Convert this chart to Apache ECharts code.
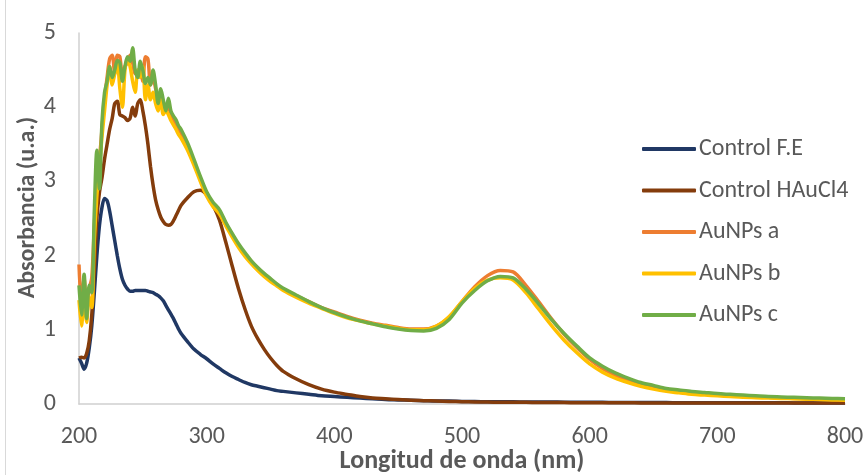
<!DOCTYPE html>
<html>
<head>
<meta charset="utf-8">
<script src="https://cdn.jsdelivr.net/npm/echarts@6/dist/echarts.min.js"></script>
<style>
html,body{margin:0;padding:0;background:#fff;}
#chart{width:866px;height:475px;}
</style>
</head>
<body>
<div id="chart"></div>
<script>
// wavelength grid (nm)
const wavelengths = [
  200,202,204,206,208,210,212,214,216,218,220,222,224,226,228,230,232,234,236,238,
  240,242,244,246,248,250,252,254,256,258,260,262,264,266,268,270,272,274,276,278,280,
  285,290,295,300,305,310,315,320,325,330,335,340,345,350,355,360,
  370,380,390,400,410,420,430,440,450,460,470,480,490,500,510,520,530,540,550,560,
  570,580,590,600,610,620,630,640,650,660,670,680,690,700,710,720,730,740,750,760,
  770,780,790,800
];

const controlFE = [
  0.62,0.55,0.47,0.55,0.75,1.05,1.5,2.0,2.4,2.65,2.77,2.74,2.6,2.4,2.2,2.0,1.82,1.68,1.6,1.55,
  1.52,1.52,1.53,1.53,1.53,1.53,1.53,1.52,1.51,1.5,1.48,1.46,1.43,1.39,1.33,1.27,1.21,1.15,1.08,1.01,0.95,
  0.84,0.74,0.67,0.61,0.54,0.48,0.42,0.37,0.33,0.29,0.26,0.24,0.22,0.2,0.18,0.17,
  0.15,0.13,0.11,0.1,0.09,0.08,0.07,0.06,0.055,0.05,0.045,0.04,0.04,0.035,0.033,0.031,0.03,0.029,0.028,0.027,
  0.026,0.025,0.024,0.023,0.022,0.021,0.02,0.02,0.019,0.019,0.018,0.018,0.017,0.017,0.017,0.016,0.016,0.016,0.016,0.015,
  0.015,0.015,0.015,0.015
];

const controlHAuCl4 = [
  0.62,0.63,0.62,0.68,0.85,1.2,1.8,2.5,2.85,3.05,3.3,3.5,3.7,3.85,4.05,4.08,3.9,3.88,3.86,3.82,
  3.85,4.0,3.88,4.05,4.1,3.95,3.75,3.5,3.2,2.95,2.75,2.62,2.52,2.46,2.42,2.41,2.42,2.47,2.54,2.61,2.68,
  2.78,2.86,2.88,2.82,2.68,2.48,2.18,1.86,1.55,1.28,1.05,0.88,0.74,0.62,0.52,0.44,
  0.34,0.26,0.2,0.16,0.13,0.1,0.08,0.07,0.06,0.05,0.045,0.04,0.035,0.03,0.028,0.026,0.024,0.023,0.022,0.021,
  0.02,0.019,0.018,0.018,0.017,0.016,0.016,0.015,0.015,0.014,0.014,0.014,0.013,0.013,0.013,0.013,0.012,0.012,0.012,0.012,
  0.012,0.012,0.012,0.012
];

const aunpsA = [
  1.88,1.3,1.7,1.2,1.55,1.7,2.4,3.0,3.3,3.7,4.1,4.4,4.65,4.7,4.45,4.7,4.68,4.4,4.55,4.6,
  4.7,4.6,4.45,4.45,4.55,4.35,4.68,4.65,4.3,4.4,4.25,4.12,4.2,4.05,3.95,4.0,3.9,3.83,3.77,3.7,3.65,
  3.48,3.26,3.04,2.84,2.7,2.6,2.43,2.28,2.14,2.02,1.92,1.83,1.75,1.68,1.61,1.55,
  1.46,1.38,1.3,1.24,1.18,1.13,1.09,1.06,1.03,1.01,1.01,1.05,1.17,1.38,1.58,1.73,1.8,1.78,1.6,1.38,
  1.15,0.94,0.76,0.6,0.48,0.39,0.32,0.27,0.22,0.19,0.17,0.15,0.135,0.12,0.11,0.1,0.095,0.09,0.08,0.075,
  0.07,0.065,0.06,0.055
];

const aunpsB = [
  1.4,1.05,1.5,1.1,1.45,1.3,2.2,2.8,3.2,3.6,3.95,4.3,4.55,4.3,4.45,4.6,4.25,4.0,4.5,4.65,
  4.55,4.35,4.2,4.5,4.4,4.55,4.1,4.3,4.1,4.2,4.05,3.95,4.1,3.9,3.95,3.9,3.82,3.76,3.7,3.63,3.58,
  3.42,3.22,3.0,2.8,2.66,2.56,2.4,2.25,2.11,1.99,1.89,1.8,1.72,1.65,1.59,1.53,
  1.44,1.36,1.29,1.22,1.16,1.12,1.08,1.05,1.02,1.0,1.0,1.05,1.18,1.38,1.56,1.67,1.7,1.67,1.5,1.28,
  1.06,0.86,0.69,0.54,0.43,0.35,0.29,0.24,0.2,0.17,0.15,0.13,0.12,0.11,0.1,0.09,0.085,0.08,0.075,0.07,
  0.065,0.06,0.055,0.05
];

const aunpsC = [
  1.6,1.2,1.75,1.15,1.6,1.5,2.6,3.42,2.9,3.8,4.2,4.35,4.55,4.4,4.5,4.63,4.6,4.35,4.55,4.68,
  4.62,4.8,4.5,4.4,4.62,4.5,4.32,4.4,4.3,4.5,4.3,4.05,4.25,4.1,3.95,4.12,3.95,3.88,3.83,3.75,3.7,
  3.52,3.3,3.07,2.86,2.72,2.62,2.45,2.3,2.16,2.04,1.93,1.84,1.76,1.69,1.62,1.56,
  1.47,1.38,1.3,1.23,1.17,1.12,1.08,1.04,1.01,0.99,0.985,1.02,1.14,1.36,1.53,1.66,1.72,1.7,1.55,1.35,
  1.14,0.95,0.78,0.62,0.51,0.42,0.35,0.29,0.25,0.21,0.19,0.17,0.155,0.14,0.13,0.12,0.11,0.1,0.095,0.09,
  0.085,0.08,0.075,0.07
];

const seriesNames = ['Control F.E', 'Control HAuCl4', 'AuNPs a', 'AuNPs b', 'AuNPs c'];
const seriesColors = ['#203864', '#843c0c', '#ed7d31', '#ffc000', '#70ad47'];
const seriesValues = [controlFE, controlHAuCl4, aunpsA, aunpsB, aunpsC];

const font = 'Calibri, Carlito, Lato, sans-serif';
const textColor = '#595959';

let chart = echarts.init(document.getElementById('chart'));
let series = seriesNames.map((name, i) => ({
  name: name,
  type: 'line',
  showSymbol: false,
  smooth: 0.3,
  lineStyle: { width: 3.5, color: seriesColors[i] },
  itemStyle: { color: seriesColors[i] },
  data: wavelengths.map((w, j) => [w, seriesValues[i][j]])
}));

let option = {
  animation: false,
  textStyle: { fontFamily: font },
  grid: { left: 79, right: 21, top: 33, bottom: 71, outerBoundsMode: 'none' },
  graphic: [{
    type: 'line',
    shape: { x1: 5.5, y1: 0, x2: 5.5, y2: 475 },
    style: { stroke: '#d9d9d9', lineWidth: 1 },
    silent: true
  }],
  legend: {
    orient: 'vertical',
    left: 637,
    top: 132,
    itemWidth: 54,
    itemHeight: 4,
    itemGap: 17.5,
    icon: 'roundRect',
    textStyle: { color: textColor, fontSize: 24, fontFamily: font, padding: [0, 0, 0, -2] },
    data: seriesNames
  },
  xAxis: {
    type: 'value',
    min: 200,
    max: 800,
    interval: 100,
    name: 'Longitud de onda (nm)',
    nameLocation: 'middle',
    nameGap: 44,
    nameMoveOverlap: false,
    nameTextStyle: { color: textColor, fontSize: 26, fontWeight: 'bold', fontFamily: font },
    axisLine: { lineStyle: { color: '#d0d0d0', width: 1.5 } },
    axisTick: { show: false },
    splitLine: { show: false },
    axisLabel: { color: textColor, fontSize: 24, margin: 21, fontFamily: font }
  },
  yAxis: {
    type: 'value',
    min: 0,
    max: 5,
    interval: 1,
    name: 'Absorbancia (u.a.)',
    nameLocation: 'middle',
    nameGap: 39,
    nameMoveOverlap: false,
    nameTextStyle: { color: textColor, fontSize: 24, fontWeight: 'bold', fontFamily: font, padding: [0, 0, 0, 22] },
    axisLine: { show: true, lineStyle: { color: '#d0d0d0', width: 1.5 } },
    axisTick: { show: false },
    splitLine: { show: false },
    axisLabel: { color: textColor, fontSize: 24, margin: 23, fontFamily: font }
  },
  series: series
};

chart.setOption(option);
window.onresize = function () {
  chart.resize();
};
</script>
</body>
</html>
